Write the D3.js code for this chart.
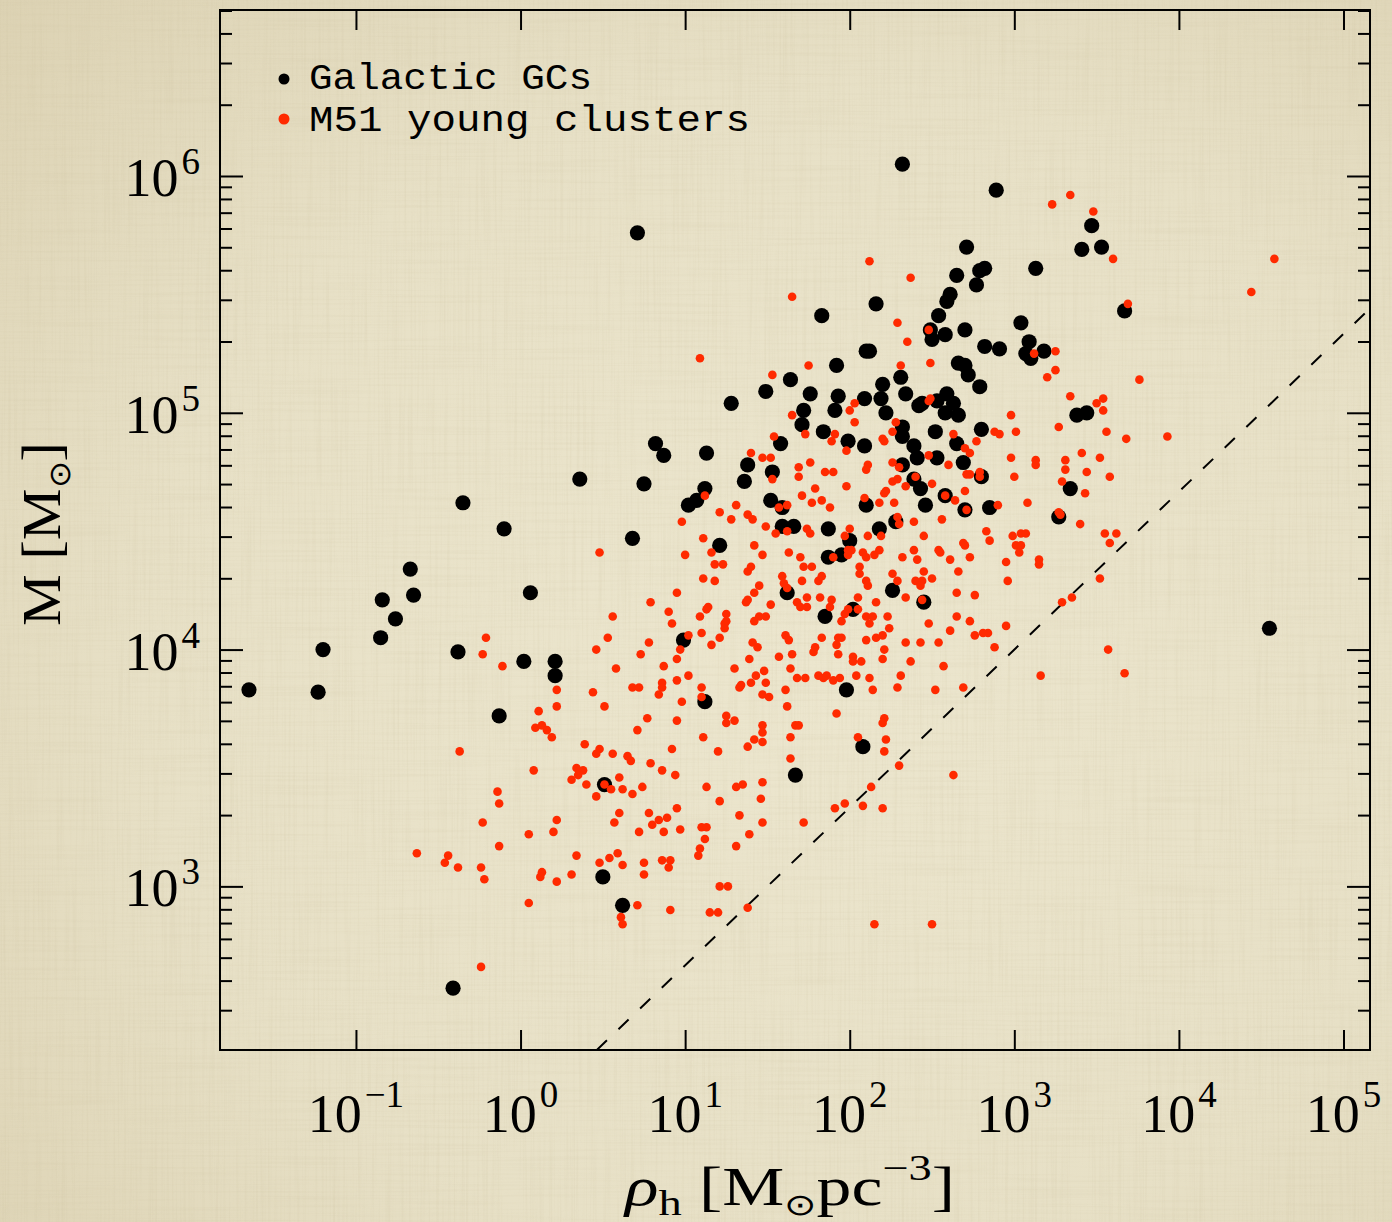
<!DOCTYPE html>
<html>
<head>
<meta charset="utf-8">
<script src="https://cdn.jsdelivr.net/npm/d3@7"></script>
<style>
  html, body { margin: 0; padding: 0; background: #e6dfc4; }
  svg { display: block; }
</style>
</head>
<body>
<svg id="chart" width="1392" height="1222"></svg>
<script>
// Half-mass density vs. mass. Each entry is [log10(rho_h / Msun pc^-3), log10(M / Msun)].
const galacticGCs = [
  [2.32,6.05],[0.71,5.76],[2.71,5.70],[2.65,5.58],[2.79,5.60],[2.82,5.61],[2.77,5.54],[2.61,5.50],[2.59,5.47],[2.16,5.46],
  [1.83,5.41],[2.54,5.41],[2.49,5.35],[2.50,5.31],[2.58,5.33],[2.70,5.35],[2.82,5.28],[2.10,5.26],[2.12,5.26],[1.92,5.20],
  [2.66,5.21],[2.70,5.20],[2.72,5.16],[2.31,5.15],[1.64,5.14],[1.49,5.09],[1.76,5.08],[2.20,5.12],[1.93,5.07],[1.28,5.04],
  [2.79,5.11],[2.34,5.08],[2.59,5.08],[2.42,5.03],[2.44,5.04],[2.53,5.05],[2.63,5.04],[2.09,5.06],[2.19,5.06],[2.58,5.00],
  [2.66,4.99],[1.72,5.01],[1.91,5.01],[2.22,5.00],[1.71,4.95],[2.80,4.93],[1.84,4.92],[2.32,4.94],[2.32,4.90],[2.52,4.92],
  [1.99,4.88],[0.82,4.87],[1.58,4.87],[2.09,4.86],[2.39,4.86],[2.65,4.87],[0.87,4.82],[1.13,4.83],[0.75,4.70],[1.12,4.68],
  [1.02,4.61],[1.07,4.63],[0.68,4.47],[1.21,4.44],[1.38,4.78],[1.36,4.71],[1.53,4.75],[1.52,4.63],[1.59,4.60],[1.59,4.52],
  [1.66,4.52],[1.87,4.51],[2.00,4.46],[1.87,4.39],[1.95,4.40],[2.10,4.61],[2.18,4.51],[2.28,4.54],[2.32,4.78],[2.41,4.81],
  [2.53,4.81],[2.69,4.79],[2.39,4.72],[2.43,4.68],[2.58,4.65],[2.46,4.61],[2.70,4.59],[2.80,4.73],[2.85,4.60],[1.62,4.24],
  [2.26,4.25],[2.45,4.20],[1.85,4.14],[2.02,4.17],[0.99,4.04],[1.12,3.78],[1.98,3.83],[2.08,3.59],[2.89,5.94],[3.47,5.79],
  [3.41,5.69],[3.53,5.70],[3.13,5.61],[3.67,5.43],[3.04,5.38],[2.91,5.27],[3.09,5.30],[3.07,5.25],[3.10,5.23],[3.18,5.26],
  [3.38,4.99],[3.44,5.00],[3.34,4.68],[3.27,4.56],[4.55,4.09],[0.36,4.72],[-0.35,4.62],[-0.10,4.51],[-0.67,4.34],[-0.65,4.23],
  [-0.84,4.21],[-0.76,4.13],[-0.85,4.05],[0.06,4.24],[-1.20,4.00],[-0.38,3.99],[0.02,3.95],[0.21,3.95],[0.21,3.89],[-1.65,3.83],
  [-1.23,3.82],[-0.13,3.72],[-0.41,2.57],[0.51,3.43],[0.50,3.04],[1.67,3.47],[0.62,2.92]
];

const m51Clusters = [
  [2.12,5.64],[2.37,5.57],[1.65,5.49],[2.29,5.38],[2.48,5.35],[2.35,5.30],[1.09,5.23],[1.75,5.20],[2.31,5.20],[2.49,5.21],
  [1.53,5.16],[2.03,5.04],[2.00,5.01],[2.48,5.05],[2.49,5.06],[1.65,4.99],[2.03,4.96],[2.28,4.96],[2.26,4.92],[1.54,4.90],
  [1.73,4.91],[1.91,4.91],[1.89,4.88],[2.20,4.89],[2.21,4.88],[2.63,4.91],[2.77,4.88],
  [3.34,5.92],[3.23,5.88],[3.48,5.85],[3.60,5.65],[4.58,5.65],[4.44,5.51],[3.69,5.46],[3.12,5.25],[3.25,5.26],[3.25,5.18],
  [3.20,5.15],[3.76,5.14],[3.34,5.07],[3.50,5.04],[3.54,5.06],[3.54,5.01],[2.98,4.99],[2.88,4.92],[2.91,4.91],[3.01,4.92],
  [3.27,4.94],[3.56,4.92],[3.68,4.89],[3.93,4.90],
  [0.48,4.41],[-0.21,4.05],[-0.23,3.98],[-0.11,3.93],[0.46,4.00],[0.22,3.83],[0.44,3.82],[0.22,3.76],[0.51,3.76],[0.11,3.74],
  [0.09,3.67],[0.13,3.68],[0.16,3.66],[0.19,3.63],[0.39,3.60],
  [-0.37,3.57],[0.08,3.49],[0.34,3.50],[0.38,3.49],[0.48,3.58],[0.46,3.56],[0.35,3.47],[0.31,3.45],[0.40,3.43],[0.51,3.43],
  [0.46,3.38],[-0.14,3.40],[-0.13,3.35],[-0.23,3.27],[0.22,3.28],[0.20,3.23],[0.05,3.22],[-0.13,3.17],[0.34,3.13],[0.48,3.10],
  [-0.63,3.14],[-0.44,3.13],[-0.46,3.10],[-0.38,3.08],[-0.24,3.08],[-0.22,3.03],[0.13,3.06],[0.12,3.04],[0.22,3.02],[0.31,3.05],
  [0.05,2.93],[-0.24,2.66],
  [0.56,3.56],[0.65,3.55],[0.67,3.53],[0.92,3.58],[0.79,3.52],[0.86,3.49],[0.94,3.47],[1.20,3.57],[1.38,3.59],[1.64,3.54],
  [2.21,3.57],[2.30,3.51],[2.63,3.47],[0.60,3.46],[0.55,3.41],[0.62,3.41],[0.68,3.39],[0.74,3.42],[1.13,3.42],[1.31,3.42],
  [1.35,3.43],[1.47,3.44],[1.21,3.36],[1.46,3.37],[2.13,3.42],[1.97,3.35],[1.91,3.33],[2.08,3.34],[2.20,3.33],[0.60,3.31],
  [0.57,3.27],[0.78,3.31],[0.95,3.33],[0.80,3.26],[0.84,3.28],[0.89,3.29],[0.72,3.23],[0.87,3.23],[0.97,3.24],[1.33,3.30],
  [1.47,3.27],[1.72,3.27],[1.10,3.25],[1.13,3.25],[1.12,3.20],[1.39,3.22],[1.09,3.16],[1.08,3.13],[1.31,3.17],[0.54,3.12],
  [0.59,3.14],[0.62,3.09],[0.75,3.10],[0.75,3.05],[0.86,3.11],[0.91,3.11],[0.90,3.08],[1.21,3.00],[1.26,3.00],[0.71,2.92],
  [0.61,2.87],[0.62,2.84],[0.91,2.90],[1.15,2.89],[1.20,2.89],[1.38,2.91],[2.15,2.84],[2.50,2.84],
  [2.98,4.81],[3.13,4.80],[3.13,4.78],[3.31,4.80],[3.41,4.83],[3.52,4.81],[3.31,4.76],[3.44,4.75],[3.00,4.73],[3.58,4.73],
  [3.29,4.71],[3.43,4.66],[2.90,4.61],[3.08,4.62],[3.27,4.58],[3.28,4.57],[3.40,4.53],[2.83,4.50],[2.85,4.46],[2.99,4.48],
  [3.04,4.49],[3.07,4.49],[3.01,4.44],[3.04,4.44],[3.03,4.41],[2.95,4.37],[3.15,4.38],[3.15,4.36],[3.55,4.49],[3.62,4.49],
  [3.58,4.45],[2.96,4.29],[3.52,4.30],[3.35,4.22],[3.29,4.20],[2.84,4.07],[2.95,4.10],[2.88,4.01],[3.57,4.00],[3.16,3.89],
  [3.67,3.90],
  [1.98,4.84],[1.40,4.83],[1.47,4.81],[1.52,4.81],[2.70,4.85],[2.73,4.83],[2.48,4.82],[1.76,4.79],[1.69,4.77],[1.69,4.73],
  [1.85,4.75],[1.90,4.75],[2.11,4.78],[2.10,4.76],[2.26,4.79],[2.30,4.77],[2.60,4.78],[2.71,4.74],[2.73,4.74],[2.79,4.75],
  [2.79,4.73],[1.53,4.72],[1.98,4.69],[2.26,4.71],[2.29,4.72],[2.34,4.69],[2.40,4.73],[2.50,4.70],[2.70,4.67],[2.71,4.59],
  [2.58,4.65],[2.64,4.63],[1.79,4.68],[1.71,4.65],[1.77,4.62],[1.83,4.63],[1.88,4.60],[1.12,4.65],[1.31,4.61],[1.21,4.58],
  [0.98,4.54],[1.28,4.55],[1.38,4.57],[1.41,4.55],[1.49,4.52],[1.55,4.49],[1.57,4.60],[1.62,4.61],[1.62,4.50],[1.74,4.51],
  [1.76,4.49],[2.09,4.64],[2.18,4.62],[2.27,4.62],[2.21,4.66],[2.22,4.67],[2.29,4.56],[2.30,4.53],[2.39,4.54],[2.56,4.55],
  [2.00,4.51],[2.11,4.48],[2.19,4.48],[1.97,4.48],[1.99,4.42],[2.01,4.42],[1.90,4.39],[1.99,4.40],[2.08,4.41],[2.10,4.39],
  [2.06,4.35],[2.06,4.32],[2.15,4.40],[2.18,4.42],[2.45,4.48],[2.39,4.42],[2.54,4.42],[2.55,4.41],[2.32,4.39],[2.41,4.38],
  [2.61,4.38],[2.73,4.39],[2.69,4.45],[2.70,4.44],[2.45,4.33],[2.66,4.33],[2.26,4.32],[2.29,4.29],[2.50,4.30],[2.40,4.29],
  [2.44,4.29],[2.43,4.27],[2.65,4.24],[2.76,4.23],[2.44,4.21],[2.34,4.22],[2.10,4.29],[2.11,4.27],[2.05,4.22],[2.16,4.20],
  [1.99,4.17],[2.05,4.17],[1.97,4.15],[1.95,4.12],[2.10,4.14],[2.14,4.14],[2.12,4.11],[2.23,4.14],[2.24,4.09],[2.48,4.11],
  [2.65,4.14],[2.73,4.12],[2.61,4.08],[2.76,4.06],[2.81,4.07],[1.82,4.22],[1.89,4.21],[1.88,4.18],[1.68,4.20],[1.70,4.18],
  [1.74,4.18],[1.74,4.22],[1.62,4.26],[1.59,4.31],[1.60,4.28],[1.71,4.29],[1.81,4.29],[1.83,4.31],[1.72,4.35],[1.77,4.35],
  [1.70,4.39],[1.63,4.41],[1.47,4.40],[1.42,4.44],[1.38,4.33],[1.40,4.35],[1.45,4.27],[1.42,4.24],[1.37,4.20],[1.38,4.21],
  [1.52,4.19],[1.49,4.14],[1.45,4.14],[1.42,4.12],[1.18,4.36],[1.23,4.36],[1.18,4.29],[1.16,4.41],[1.11,4.30],[1.11,4.47],
  [1.00,4.40],[0.95,4.24],[0.79,4.20],[0.90,4.16],[0.92,4.11],[1.13,4.17],[1.14,4.18],[1.09,4.14],[1.25,4.15],[1.25,4.12],
  [1.24,4.11],[1.24,4.09],[1.21,4.05],[1.10,4.07],[1.16,4.02],[1.02,4.06],[0.97,4.00],[0.95,3.96],[0.87,3.93],[0.78,4.03],
  [0.73,3.98],[0.53,4.05],[0.56,4.14],[0.58,3.92],[0.68,3.84],[0.72,3.84],[0.86,3.86],[0.86,3.84],[0.84,3.81],[0.95,3.87],
  [1.02,3.89],[0.98,3.78],[1.10,3.84],[1.10,3.80],[0.77,3.71],[0.71,3.66],[0.95,3.70],[1.11,3.63],[1.25,3.72],[1.25,3.69],
  [1.30,3.70],[1.30,3.92],[1.33,3.84],[1.34,3.85],[1.40,3.86],[1.43,3.89],[1.48,3.91],[1.49,3.86],[1.39,3.96],[1.41,4.03],
  [1.44,4.01],[1.57,3.97],[1.65,3.98],[1.64,3.92],[1.61,4.06],[1.63,4.04],[1.68,3.88],[1.73,3.88],[1.61,3.83],[1.47,3.81],
  [1.51,3.80],[1.62,3.76],[1.47,3.68],[1.47,3.65],[1.47,3.61],[1.42,3.62],[1.64,3.63],[1.67,3.68],[1.69,3.68],[1.78,3.99],
  [1.79,4.01],[1.83,4.05],[1.93,4.05],[1.95,4.05],[1.92,4.02],[1.93,3.98],[2.02,3.97],[2.02,3.95],[2.07,3.95],[2.10,4.04],
  [2.16,4.05],[2.20,4.06],[2.21,4.00],[2.20,3.96],[2.34,4.03],[2.43,4.03],[2.54,4.03],[2.37,3.95],[2.57,3.93],[2.31,3.89],
  [2.29,3.84],[2.52,3.83],[2.69,3.84],[2.14,3.83],[2.04,3.89],[2.12,3.88],[1.81,3.89],[1.84,3.88],[1.86,3.89],[1.90,3.87],
  [1.94,3.88],[1.92,3.73],[2.21,3.71],[2.20,3.69],[2.22,3.62],[2.05,3.63]
];

// Axis extents (log10) and labelled decades
const xLogExtent = [-1.826, 5.161];
const yLogExtent = [2.309, 6.701];
const xTickExponents = [-1, 0, 1, 2, 3, 4, 5];
const yTickExponents = [3, 4, 5, 6];
const seriesNames = ["Galactic GCs", "M51 young clusters"];
const seriesColors = ["#000000", "#ff2a00"];
// Reference relation M = 100 * rho^(2/3)
const refNorm = 100, refSlope = 2 / 3;

const W = 1392, H = 1222;
const plot = { left: 220, right: 1370, top: 10, bottom: 1050 };
const serif = "'Liberation Serif', 'Times New Roman', serif";
const mono = "'Liberation Mono', 'DejaVu Sans Mono', monospace";

const svg = d3.select("#chart");
const defs = svg.append("defs");

// Parchment backdrop
const bg = defs.append("radialGradient").attr("id", "paper")
  .attr("cx", "58%").attr("cy", "55%").attr("r", "80%");
bg.append("stop").attr("offset", "0%").attr("stop-color", "#ece6ce");
bg.append("stop").attr("offset", "60%").attr("stop-color", "#e7e0c6");
bg.append("stop").attr("offset", "100%").attr("stop-color", "#dcd2b3");

function weave(id, freq, seed) {
  const f = defs.append("filter").attr("id", id)
    .attr("x", 0).attr("y", 0).attr("width", "100%").attr("height", "100%");
  f.append("feTurbulence").attr("type", "fractalNoise")
    .attr("baseFrequency", freq).attr("numOctaves", 2).attr("seed", seed).attr("result", "n");
  f.append("feColorMatrix").attr("in", "n").attr("type", "matrix")
    .attr("values", "0 0 0 0 0.55  0 0 0 0 0.48  0 0 0 0 0.30  1.6 0 0 0 -0.72");
}
weave("weaveV", "0.45 0.008", 4);
weave("weaveH", "0.008 0.45", 9);

svg.append("rect").attr("width", W).attr("height", H).attr("fill", "url(#paper)");
svg.append("rect").attr("width", W).attr("height", H).attr("filter", "url(#weaveV)").attr("opacity", 0.2);
svg.append("rect").attr("width", W).attr("height", H).attr("filter", "url(#weaveH)").attr("opacity", 0.16);

// Scales
const x = d3.scaleLog().domain(xLogExtent.map(e => 10 ** e)).range([plot.left, plot.right]);
const y = d3.scaleLog().domain(yLogExtent.map(e => 10 ** e)).range([plot.bottom, plot.top]);

const xMajor = xTickExponents.map(e => 10 ** e);
const yMajor = d3.range(3, 7).map(e => 10 ** e);
const yMinor = [];
for (let e = 2; e <= 6; e++) for (let m = 2; m <= 9; m++) {
  const v = m * 10 ** e;
  if (v > y.domain()[0] && v < y.domain()[1]) yMinor.push(v);
}

function styleAxis(g) {
  g.select(".domain").remove();
  g.selectAll(".tick line").attr("stroke", "#000").attr("stroke-width", 2);
  g.selectAll(".tick text").remove();
}

const axes = svg.append("g");
axes.append("g").attr("transform", `translate(0,${plot.bottom})`)
  .call(d3.axisBottom(x).tickValues(xMajor).tickSize(-20)).call(styleAxis);
axes.append("g").attr("transform", `translate(0,${plot.top})`)
  .call(d3.axisTop(x).tickValues(xMajor).tickSize(-20)).call(styleAxis);
axes.append("g").attr("transform", `translate(${plot.left},0)`)
  .call(d3.axisLeft(y).tickValues(yMajor).tickSize(-23)).call(styleAxis);
axes.append("g").attr("transform", `translate(${plot.left},0)`)
  .call(d3.axisLeft(y).tickValues(yMinor).tickSize(-12)).call(styleAxis);
axes.append("g").attr("transform", `translate(${plot.right},0)`)
  .call(d3.axisRight(y).tickValues(yMajor).tickSize(-23)).call(styleAxis);
axes.append("g").attr("transform", `translate(${plot.right},0)`)
  .call(d3.axisRight(y).tickValues(yMinor).tickSize(-12)).call(styleAxis);

svg.append("rect")
  .attr("x", plot.left).attr("y", plot.top)
  .attr("width", plot.right - plot.left).attr("height", plot.bottom - plot.top)
  .attr("fill", "none").attr("stroke", "#000").attr("stroke-width", 2);

// Reference line, clipped to the frame
defs.append("clipPath").attr("id", "frame").append("rect")
  .attr("x", plot.left).attr("y", plot.top)
  .attr("width", plot.right - plot.left).attr("height", plot.bottom - plot.top);
const rhoLo = (y.domain()[0] / refNorm) ** (1 / refSlope);
const rhoHi = x.domain()[1];
const refPts = [rhoLo, rhoHi].map(r => [r, refNorm * r ** refSlope]);
svg.append("path")
  .attr("clip-path", "url(#frame)")
  .attr("d", d3.line().x(d => x(d[0])).y(d => y(d[1]))(refPts))
  .attr("fill", "none").attr("stroke", "#000").attr("stroke-width", 2)
  .attr("stroke-dasharray", "14 16");

// Points
const pts = svg.append("g");
pts.selectAll("circle.gc").data(galacticGCs).join("circle")
  .attr("class", "gc")
  .attr("cx", d => x(10 ** d[0])).attr("cy", d => y(10 ** d[1]))
  .attr("r", 7.6).attr("fill", seriesColors[0]);
pts.selectAll("circle.m51").data(m51Clusters).join("circle")
  .attr("class", "m51")
  .attr("cx", d => x(10 ** d[0])).attr("cy", d => y(10 ** d[1]))
  .attr("r", 4.3).attr("fill", seriesColors[1]);

// Tick labels
const labels = svg.append("g").attr("font-family", serif).attr("fill", "#000");
labels.selectAll("text.ylab").data(yTickExponents).join("text")
  .attr("class", "ylab")
  .attr("x", 200).attr("y", e => y(10 ** e) + 20)
  .attr("text-anchor", "end").attr("font-size", 54)
  .each(function (e) {
    const t = d3.select(this);
    t.append("tspan").text("10");
    t.append("tspan").attr("dx", 3).attr("dy", -22).attr("font-size", 37).text(e);
  });
labels.selectAll("text.xlab").data(xTickExponents).join("text")
  .attr("class", "xlab")
  .attr("x", e => x(10 ** e)).attr("y", 1132)
  .attr("text-anchor", "middle").attr("font-size", 54)
  .each(function (e) {
    const t = d3.select(this);
    t.append("tspan").text("10");
    t.append("tspan").attr("dx", 3).attr("dy", -25).attr("font-size", 37)
      .text(e < 0 ? "\u2212" + Math.abs(e) : e);
  });

// Axis titles
const xt = labels.append("text")
  .attr("x", (plot.left + plot.right) / 2 - 5).attr("y", 1205)
  .attr("text-anchor", "middle").attr("font-size", 54)
  .attr("textLength", 330).attr("lengthAdjust", "spacingAndGlyphs");
xt.append("tspan").attr("font-style", "italic").text("\u03c1");
xt.append("tspan").attr("font-size", 36).attr("dy", 10).text("h");
xt.append("tspan").attr("dy", -10).text(" [M");
xt.append("tspan").attr("font-size", 30).attr("dy", 10).text("\u2299");
xt.append("tspan").attr("dy", -10).text("pc");
xt.append("tspan").attr("font-size", 36).attr("dy", -25).text("\u22123");
xt.append("tspan").attr("dy", 25).text("]");

const yt = labels.append("text")
  .attr("transform", `translate(60,${(plot.top + plot.bottom) / 2 + 4}) rotate(-90)`)
  .attr("text-anchor", "middle").attr("font-size", 54)
  .attr("textLength", 184).attr("lengthAdjust", "spacingAndGlyphs");
yt.append("tspan").text("M [M");
yt.append("tspan").attr("font-size", 30).attr("dy", 10).text("\u2299");
yt.append("tspan").attr("dy", -10).text("]");

// Legend
const legend = svg.append("g");
const legendWidths = [283, 441];
seriesNames.forEach((name, i) => {
  legend.append("circle").attr("cx", 284).attr("cy", 79 + i * 40)
    .attr("r", 5.5).attr("fill", seriesColors[i]);
  legend.append("text").attr("x", 309).attr("y", 89 + i * 42)
    .attr("font-family", mono).attr("font-size", 36).attr("fill", "#000")
    .attr("textLength", legendWidths[i]).attr("lengthAdjust", "spacingAndGlyphs")
    .text(name);
});
</script>
</body>
</html>
